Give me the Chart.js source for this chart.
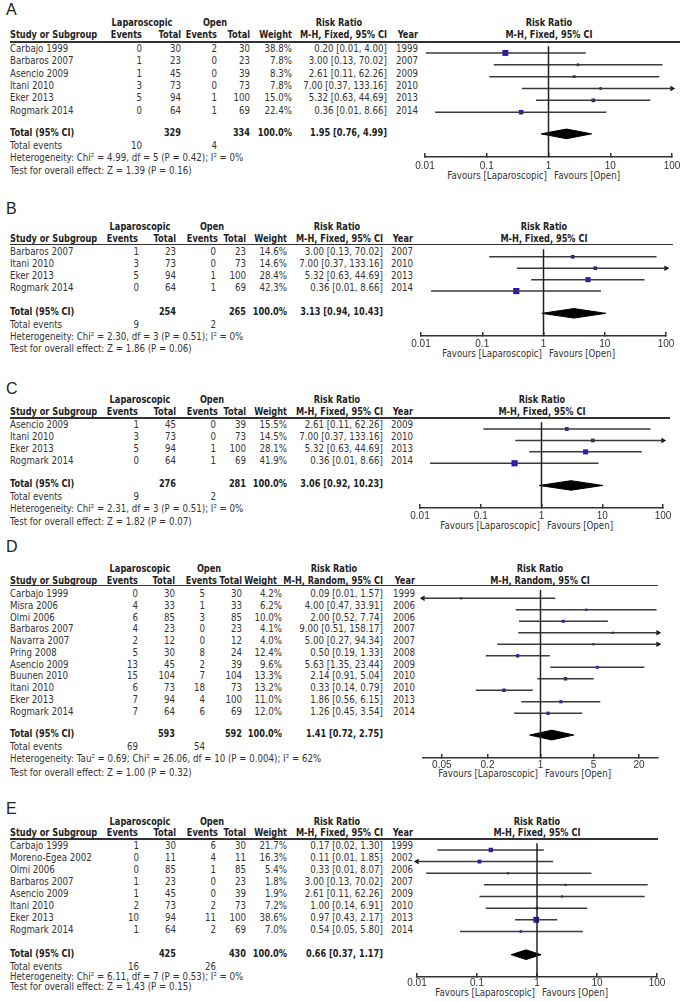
<!DOCTYPE html>
<html>
<head>
<meta charset="utf-8">
<title>Forest plots</title>
<script src="https://cdn.jsdelivr.net/npm/chart.js"></script>
<style>
    body {
        margin: 0;
        background: #fff;
        width: 680px;
        height: 1001px;
        overflow: hidden;
        position: relative;
        font-family: 'DejaVu Sans', sans-serif;
        color: #333;
    }
    .t { position: absolute; font-size: 10px; line-height: 12px; white-space: nowrap; }
    .b { font-weight: bold; color: #222; }
    .lbl { position: absolute; font-size: 16px; line-height: 20px; color: #222; left: 6px;
           font-family: 'Liberation Sans', Arial, sans-serif; }
    .rule { position: absolute; height: 1.5px; background: #333; left: 10px; }
    canvas { position: absolute; }
</style>
</head>
<body>
<script>
// ---- data: panel A ----
const aStudy = ['Carbajo 1999', 'Barbaros 2007', 'Asencio 2009', 'Itani 2010', 'Eker 2013', 'Rogmark 2014'];
const aYear = [1999, 2007, 2009, 2010, 2013, 2014];
const aLapEv = [0, 1, 1, 3, 5, 0];
const aLapN = [30, 23, 45, 73, 94, 64];
const aOpenEv = [2, 0, 0, 0, 1, 1];
const aOpenN = [30, 23, 39, 73, 100, 69];
const aWeight = [38.8, 7.8, 8.3, 7.8, 15.0, 22.4];
const aRR = [0.20, 3.00, 2.61, 7.00, 5.32, 0.36];
const aLo = [0.0103, 0.13, 0.11, 0.37, 0.63, 0.0146];
const aHi = [4.00, 70.02, 62.26, 133.16, 44.69, 8.66];
const aTotalN = [329, 334];
const aTotalRR = [1.95, 0.76, 4.99];
const aEvents = [10, 4];
const aHet = 'Heterogeneity: Chi² = 4.99, df = 5 (P = 0.42); I² = 0%';
const aTest = 'Test for overall effect: Z = 1.39 (P = 0.16)';

// ---- data: panel B ----
const bStudy = ['Barbaros 2007', 'Itani 2010', 'Eker 2013', 'Rogmark 2014'];
const bYear = [2007, 2010, 2013, 2014];
const bLapEv = [1, 3, 5, 0];
const bLapN = [23, 73, 94, 64];
const bOpenEv = [0, 0, 1, 1];
const bOpenN = [23, 73, 100, 69];
const bWeight = [14.6, 14.6, 28.4, 42.3];
const bRR = [3.00, 7.00, 5.32, 0.36];
const bLo = [0.13, 0.37, 0.63, 0.0146];
const bHi = [70.02, 133.16, 44.69, 8.66];
const bTotalN = [254, 265];
const bTotalRR = [3.13, 0.94, 10.43];
const bEvents = [9, 2];
const bHet = 'Heterogeneity: Chi² = 2.30, df = 3 (P = 0.51); I² = 0%';
const bTest = 'Test for overall effect: Z = 1.86 (P = 0.06)';

// ---- data: panel C ----
const cStudy = ['Asencio 2009', 'Itani 2010', 'Eker 2013', 'Rogmark 2014'];
const cYear = [2009, 2010, 2013, 2014];
const cLapEv = [1, 3, 5, 0];
const cLapN = [45, 73, 94, 64];
const cOpenEv = [0, 0, 1, 1];
const cOpenN = [39, 73, 100, 69];
const cWeight = [15.5, 14.5, 28.1, 41.9];
const cRR = [2.61, 7.00, 5.32, 0.36];
const cLo = [0.11, 0.37, 0.63, 0.0146];
const cHi = [62.26, 133.16, 44.69, 8.66];
const cTotalN = [276, 281];
const cTotalRR = [3.06, 0.92, 10.23];
const cEvents = [9, 2];
const cHet = 'Heterogeneity: Chi² = 2.31, df = 3 (P = 0.51); I² = 0%';
const cTest = 'Test for overall effect: Z = 1.82 (P = 0.07)';

// ---- data: panel D ----
const dStudy = ['Carbajo 1999', 'Misra 2006', 'Olmi 2006', 'Barbaros 2007', 'Navarra 2007', 'Pring 2008',
                'Asencio 2009', 'Buunen 2010', 'Itani 2010', 'Eker 2013', 'Rogmark 2014'];
const dYear = [1999, 2006, 2006, 2007, 2007, 2008, 2009, 2010, 2010, 2013, 2014];
const dLapEv = [0, 4, 6, 4, 2, 5, 13, 15, 6, 7, 7];
const dLapN = [30, 33, 85, 23, 12, 30, 45, 104, 73, 94, 64];
const dOpenEv = [5, 1, 3, 0, 0, 8, 2, 7, 18, 4, 6];
const dOpenN = [30, 33, 85, 23, 12, 24, 39, 104, 73, 100, 69];
const dWeight = [4.2, 6.2, 10.0, 4.1, 4.0, 12.4, 9.6, 13.3, 13.2, 11.0, 12.0];
const dRR = [0.09, 4.00, 2.00, 9.00, 5.00, 0.50, 5.63, 2.14, 0.33, 1.86, 1.26];
const dLo = [0.01, 0.47, 0.52, 0.51, 0.27, 0.19, 1.35, 0.91, 0.14, 0.56, 0.45];
const dHi = [1.57, 33.91, 7.74, 158.17, 94.34, 1.33, 23.44, 5.04, 0.79, 6.15, 3.54];
const dTotalN = [593, 592];
const dTotalRR = [1.41, 0.72, 2.75];
const dEvents = [69, 54];
const dHet = 'Heterogeneity: Tau² = 0.69; Chi² = 26.06, df = 10 (P = 0.004); I² = 62%';
const dTest = 'Test for overall effect: Z = 1.00 (P = 0.32)';

// ---- data: panel E ----
const eStudy = ['Carbajo 1999', 'Moreno-Egea 2002', 'Olmi 2006', 'Barbaros 2007', 'Asencio 2009',
                'Itani 2010', 'Eker 2013', 'Rogmark 2014'];
const eYear = [1999, 2002, 2006, 2007, 2009, 2010, 2013, 2014];
const eLapEv = [1, 0, 0, 1, 1, 2, 10, 1];
const eLapN = [30, 11, 85, 23, 45, 73, 94, 64];
const eOpenEv = [6, 4, 1, 0, 0, 2, 11, 2];
const eOpenN = [30, 11, 85, 23, 39, 73, 100, 69];
const eWeight = [21.7, 16.3, 5.4, 1.8, 1.9, 7.2, 38.6, 7.0];
const eRR = [0.17, 0.11, 0.33, 3.00, 2.61, 1.00, 0.97, 0.54];
const eLo = [0.022, 0.007, 0.0142, 0.13, 0.11, 0.14, 0.43, 0.052];
const eHi = [1.30, 1.85, 8.07, 70.02, 62.26, 6.91, 2.17, 5.80];
const eTotalN = [425, 430];
const eTotalRR = [0.66, 0.37, 1.17];
const eEvents = [16, 26];
const eHet = 'Heterogeneity: Chi² = 6.11, df = 7 (P = 0.53); I² = 0%';
const eTest = 'Test for overall effect: Z = 1.43 (P = 0.15)';

// axis tick labels
const fixedTicks = [0.01, 0.1, 1, 10, 100];
const randomTicks = [0.05, 0.2, 1, 5, 20];
const fixedMethod = 'M-H, Fixed, 95% CI';
const randomMethod = 'M-H, Random, 95% CI';

// ---- layout (pixels) ----
const colsWide = [142, 181, 217, 250, 292, 387, 418];
const colsStd = [139, 176, 216, 246, 287, 383, 413];
const hdrStd = [138, 176, 218, 246, 287, 383, 413];
// DejaVu is wider than the original Lucida, squeeze it horizontally
const squeeze = 0.865, squeezeBold = 0.82;

const panels = [
    { label: 'A', labelY: 9.5, h1: 23, h2: 35, lineY: 42, lineEnd: 680, y0: 49, dy: 12.3, totalY: 133,
      eventsY: 146, hetY: 158, testY: 171, axisY: 157, favY: 176, tickPad: 7,
      xMin: 0.01, xMax: 100, pxMin: 425, pxMax: 672,
      hcol: colsWide, vcol: colsWide, hc1: [142, 215, 339], ticks: fixedTicks, method: fixedMethod,
      study: aStudy, year: aYear, lapEv: aLapEv, lapN: aLapN, openEv: aOpenEv, openN: aOpenN, weight: aWeight,
      rr: aRR, lo: aLo, hi: aHi, totalN: aTotalN, totalRR: aTotalRR, events: aEvents, het: aHet, test: aTest },
    { label: 'B', labelY: 208.5, h1: 227, h2: 238.5, lineY: 244.5, lineEnd: 673, y0: 252.3, dy: 12, totalY: 311.7,
      eventsY: 325, hetY: 337, testY: 349, axisY: 335, favY: 354, tickPad: 6,
      xMin: 0.01, xMax: 100, pxMin: 421, pxMax: 666,
      hcol: hdrStd, vcol: colsStd, hc1: [140, 212, 337], ticks: fixedTicks, method: fixedMethod,
      study: bStudy, year: bYear, lapEv: bLapEv, lapN: bLapN, openEv: bOpenEv, openN: bOpenN, weight: bWeight,
      rr: bRR, lo: bLo, hi: bHi, totalN: bTotalN, totalRR: bTotalRR, events: bEvents, het: bHet, test: bTest },
    { label: 'C', labelY: 389, h1: 400, h2: 412, lineY: 418, lineEnd: 670, y0: 425, dy: 12, totalY: 484.3,
      eventsY: 497, hetY: 509, testY: 521.7, axisY: 508, favY: 526, tickPad: 6,
      xMin: 0.01, xMax: 100, pxMin: 420, pxMax: 663,
      hcol: hdrStd, vcol: colsStd, hc1: [140, 212, 337], ticks: fixedTicks, method: fixedMethod,
      study: cStudy, year: cYear, lapEv: cLapEv, lapN: cLapN, openEv: cOpenEv, openN: cOpenN, weight: cWeight,
      rr: cRR, lo: cLo, hi: cHi, totalN: cTotalN, totalRR: cTotalRR, events: cEvents, het: cHet, test: cTest },
    { label: 'D', labelY: 546.7, h1: 568.5, h2: 580.5, lineY: 585.5, lineEnd: 658, y0: 594, dy: 11.77, totalY: 734,
      eventsY: 746.7, hetY: 758.5, testY: 772.7, axisY: 757, favY: 774, tickPad: 5,
      xMin: 0.0282, xMax: 35.5, pxMin: 423, pxMax: 658,
      hcol: [138, 175, 217, 242, 277, 383, 415], vcol: [138, 175, 205, 242, 282, 383, 415], hc1: [140, 209, 334],
      ticks: randomTicks, method: randomMethod,
      study: dStudy, year: dYear, lapEv: dLapEv, lapN: dLapN, openEv: dOpenEv, openN: dOpenN, weight: dWeight,
      rr: dRR, lo: dLo, hi: dHi, totalN: dTotalN, totalRR: dTotalRR, events: dEvents, het: dHet, test: dTest },
    { label: 'E', labelY: 809, h1: 822, h2: 833, lineY: 839, lineEnd: 658, y0: 846, dy: 12, totalY: 954,
      eventsY: 966.7, hetY: 977, testY: 987, axisY: 977, favY: 993.3, tickPad: 4.5,
      xMin: 0.01, xMax: 100, pxMin: 417, pxMax: 657,
      hcol: hdrStd, vcol: colsStd, hc1: [140, 212, 337], ticks: fixedTicks, method: fixedMethod,
      study: eStudy, year: eYear, lapEv: eLapEv, lapN: eLapN, openEv: eOpenEv, openN: eOpenN, weight: eWeight,
      rr: eRR, lo: eLo, hi: eHi, totalN: eTotalN, totalRR: eTotalRR, events: eEvents, het: eHet, test: eTest }
];

function txt(s, x, y, align, cls) {
    const d = document.createElement('div');
    d.className = 't' + (cls ? ' ' + cls : '');
    d.textContent = s;
    let origin = 'left';
    if (align === 'r') {
        d.style.left = (x - 300) + 'px'; d.style.width = '300px'; d.style.textAlign = 'right';
        origin = 'right';
    } else if (align === 'c') {
        d.style.left = (x - 150) + 'px'; d.style.width = '300px'; d.style.textAlign = 'center';
        origin = 'center';
    } else {
        d.style.left = x + 'px';
    }
    d.style.top = (y - 6) + 'px';
    d.style.transform = 'scaleX(' + (cls === 'b' ? squeezeBold : squeeze) + ')';
    d.style.transformOrigin = origin;
    document.body.appendChild(d);
}

function ciText(r, l, h) {
    return r.toFixed(2) + ' [' + l.toFixed(2) + ', ' + h.toFixed(2) + ']';
}

function drawTable(p) {
    const lbl = document.createElement('div');
    lbl.className = 'lbl';
    lbl.textContent = p.label;
    lbl.style.top = (p.labelY - 10) + 'px';
    document.body.appendChild(lbl);

    txt('Laparoscopic', p.hc1[0], p.h1, 'c', 'b');
    txt('Open', p.hc1[1], p.h1, 'c', 'b');
    txt('Risk Ratio', p.hc1[2], p.h1, 'c', 'b');
    const h = p.hcol;
    txt('Study or Subgroup', 10, p.h2, 'l', 'b');
    txt('Events', h[0], p.h2, 'r', 'b');
    txt('Total', h[1], p.h2, 'r', 'b');
    txt('Events', h[2], p.h2, 'r', 'b');
    txt('Total', h[3], p.h2, 'r', 'b');
    txt('Weight', h[4], p.h2, 'r', 'b');
    txt(p.method, h[5], p.h2, 'r', 'b');
    txt('Year', h[6], p.h2, 'r', 'b');

    const rule = document.createElement('div');
    rule.className = 'rule';
    rule.style.top = (p.lineY - 0.75) + 'px';
    rule.style.width = (p.lineEnd - 10) + 'px';
    document.body.appendChild(rule);

    const c = p.vcol;
    p.study.forEach((s, i) => {
        const y = p.y0 + i * p.dy;
        txt(s, 10, y, 'l');
        txt(String(p.lapEv[i]), c[0], y, 'r');
        txt(String(p.lapN[i]), c[1], y, 'r');
        txt(String(p.openEv[i]), c[2], y, 'r');
        txt(String(p.openN[i]), c[3], y, 'r');
        txt(p.weight[i].toFixed(1) + '%', c[4], y, 'r');
        txt(ciText(p.rr[i], p.lo[i], p.hi[i]), c[5], y, 'r');
        txt(String(p.year[i]), c[6], y, 'r');
    });

    txt('Total (95% CI)', 10, p.totalY, 'l', 'b');
    txt(String(p.totalN[0]), c[1], p.totalY, 'r', 'b');
    txt(String(p.totalN[1]), c[3], p.totalY, 'r', 'b');
    txt('100.0%', c[4], p.totalY, 'r', 'b');
    txt(ciText(p.totalRR[0], p.totalRR[1], p.totalRR[2]), c[5], p.totalY, 'r', 'b');
    txt('Total events', 10, p.eventsY, 'l');
    txt(String(p.events[0]), c[0], p.eventsY, 'r');
    txt(String(p.events[1]), c[2], p.eventsY, 'r');
    txt(p.het, 10, p.hetY, 'l');
    txt(p.test, 10, p.testY, 'l');
}

function drawForest(p) {
    const lg = Math.log10;
    const onePx = p.pxMin + (p.pxMax - p.pxMin) * (0 - lg(p.xMin)) / (lg(p.xMax) - lg(p.xMin));
    txt('Risk Ratio', onePx, p.h1, 'c', 'b');
    txt(p.method, onePx, p.h2, 'c', 'b');
    txt('Favours [Laparoscopic]', onePx - 2, p.favY, 'r');
    txt('Favours [Open]', onePx + 5, p.favY, 'l');

    const left = p.pxMin - 22, right = 680;
    const cv = document.createElement('canvas');
    cv.width = right - left;
    cv.height = Math.round(p.axisY - p.lineY) + 30;
    cv.style.left = left + 'px';
    cv.style.top = p.lineY + 'px';
    document.body.appendChild(cv);

    const yMin = (p.lineY - p.y0) / p.dy;
    const yMax = (p.lineY + cv.height - 30 - p.y0) / p.dy;
    const totalRow = (p.totalY - p.y0) / p.dy;

    const datasets = [];
    // line of no effect
    datasets.push({ data: [{ x: 1, y: yMin }, { x: 1, y: yMax }], showLine: true,
        borderColor: '#222', borderWidth: 1.5, pointRadius: 0 });
    // confidence intervals
    p.rr.forEach((v, i) => {
        datasets.push({ data: [{ x: Math.max(p.lo[i], p.xMin), y: i }, { x: Math.min(p.hi[i], p.xMax), y: i }],
            showLine: true, borderColor: '#3a3a3a', borderWidth: 1.5, pointRadius: 0 });
    });
    // arrows where the interval runs off the axis
    const arrows = [], rot = [];
    p.rr.forEach((v, i) => {
        if (p.hi[i] > p.xMax) { arrows.push({ x: p.xMax, y: i }); rot.push(90); }
        if (p.lo[i] < p.xMin) { arrows.push({ x: p.xMin, y: i }); rot.push(-90); }
    });
    datasets.push({ data: arrows, pointStyle: 'triangle', pointRotation: rot, pointRadius: 3.2,
        pointBackgroundColor: '#111', pointBorderWidth: 0 });
    // study estimates, square size by weight
    datasets.push({ data: p.rr.map((v, i) => ({ x: v, y: i })), pointStyle: 'rect',
        pointRadius: p.weight.map(w => Math.max(2.2, Math.sqrt(w) * 0.95) / Math.SQRT2),
        pointBackgroundColor: '#2414c8', pointBorderWidth: 0 });
    // pooled diamond
    const hh = 5 / p.dy;
    const t = p.totalRR;
    datasets.push({ data: [{ x: t[1], y: totalRow }, { x: t[0], y: totalRow - hh }, { x: t[2], y: totalRow },
            { x: t[0], y: totalRow + hh }, { x: t[1], y: totalRow }],
        showLine: true, fill: 'shape', backgroundColor: '#000', borderColor: '#000', borderWidth: 1, pointRadius: 0 });
    datasets.forEach(d => { d.clip = false; });

    new Chart(cv, {
        type: 'scatter',
        data: { datasets: datasets },
        options: {
            responsive: false,
            animation: false,
            events: [],
            layout: { padding: { left: p.pxMin - left, right: right - p.pxMax, top: 0, bottom: 0 } },
            plugins: { legend: { display: false }, tooltip: { enabled: false } },
            scales: {
                x: {
                    type: 'logarithmic',
                    min: p.xMin,
                    max: p.xMax,
                    afterBuildTicks: s => { s.ticks = p.ticks.map(v => ({ value: v })); },
                    afterFit: s => { s.height = 30; s.paddingLeft = 0; s.paddingRight = 0; },
                    // negative length: tick marks point up into the plot, as in RevMan
                    grid: { drawOnChartArea: false, drawTicks: true, tickLength: -4, color: '#333', lineWidth: 1.5 },
                    border: { display: true, color: '#333', width: 1.5 },
                    ticks: {
                        autoSkip: false, maxRotation: 0, padding: p.tickPad, color: '#333',
                        font: { family: 'Liberation Sans', size: 10 },
                        callback: v => String(v)
                    }
                },
                y: { type: 'linear', display: false, reverse: true, min: yMin, max: yMax }
            }
        }
    });
}

panels.forEach(p => { drawTable(p); drawForest(p); });
</script>
</body>
</html>
